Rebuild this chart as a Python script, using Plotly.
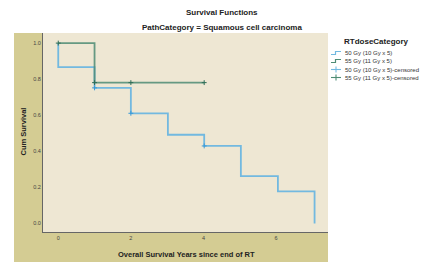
import plotly.graph_objects as go

# ---- data ----
series_names = ["50 Gy (10 Gy x 5)", "55 Gy (11 Gy x 5)"]
t_50 = [0.0, 0.0, 1.0, 2.0, 3.02, 4.02, 5.03, 6.05, 7.06]
s_50 = [1.0, 0.867, 0.752, 0.611, 0.492, 0.430, 0.263, 0.178, 0.0]
t_55 = [0.0, 1.0, 4.02]
s_55 = [1.0, 0.781, 0.781]
cens_t_50 = [1.0, 2.0, 4.02]
cens_s_50 = [0.752, 0.611, 0.430]
cens_t_55 = [0.0, 1.0, 2.0, 4.02]
cens_s_55 = [1.0, 0.781, 0.781, 0.781]
x_ticks = [0, 2, 4, 6]
y_ticks = [0.0, 0.2, 0.4, 0.6, 0.8, 1.0]
y_tick_labels = ["0.0", "0.2", "0.4", "0.6", "0.8", "1.0"]

BLUE = "#72B9E0"
GREEN = "#4E8C74"
KHAKI = "#D4CC93"
BEIGE = "#EEE7D3"
FONT = "Liberation Sans"

W, H = 432, 266
L, R, T, B = 43, 328, 33, 232  # plot area in px


def px(x):
    return (x - L) / (R - L)


def py(y):
    return (B - y) / (B - T)


fig = go.Figure()
fig.add_trace(go.Scatter(x=t_50, y=s_50, mode="lines", line=dict(color=BLUE, width=1.8, shape="hv"),
                         showlegend=False, hoverinfo="skip"))
fig.add_trace(go.Scatter(x=t_55, y=s_55, mode="lines", line=dict(color=GREEN, width=1.8, shape="hv"),
                         opacity=0.85, showlegend=False, hoverinfo="skip"))
fig.add_trace(go.Scatter(x=cens_t_50, y=cens_s_50, mode="markers",
                         marker=dict(symbol="cross-thin", size=3.5, line=dict(color="#3A9AD6", width=1)),
                         showlegend=False, hoverinfo="skip"))
fig.add_trace(go.Scatter(x=cens_t_55, y=cens_s_55, mode="markers",
                         marker=dict(symbol="cross-thin", size=3.5, line=dict(color="#2F6E58", width=1)),
                         showlegend=False, hoverinfo="skip"))

shapes = [
    dict(type="rect", xref="paper", yref="paper", x0=px(14), x1=px(328), y0=py(262), y1=py(33),
         fillcolor=KHAKI, line=dict(width=0), layer="below"),
    dict(type="rect", xref="paper", yref="paper", x0=0, x1=1, y0=0, y1=1,
         fillcolor=BEIGE, line=dict(width=0), layer="below"),
]


def ann(text, x, y, size, color="#222", xanchor="center", angle=0):
    return dict(text=text, x=px(x), y=py(y), xref="paper", yref="paper", xanchor=xanchor, yanchor="middle",
                textangle=angle, showarrow=False, font=dict(family=FONT, size=size, color=color))


annotations = [
    ann("<b>Survival Functions</b>", 222, 12, 8),
    ann("<b>PathCategory = Squamous cell carcinoma</b>", 222, 27, 8),
    ann("<b>Cum Survival</b>", 22.5, 132, 7.5, angle=-90),
    ann("<b>Overall Survival Years since end of RT</b>", 186, 254, 7.5),
    ann("<b>RTdoseCategory</b>", 376, 42, 8),
]

legend_items = [
    (series_names[0], BLUE, "step"),
    (series_names[1], GREEN, "step"),
    (series_names[0] + "-censored", BLUE, "cross"),
    (series_names[1] + "-censored", GREEN, "cross"),
]
rows = [53, 61, 69.5, 77.5]
for (label, col, kind), yy in zip(legend_items, rows):
    if kind == "step":
        path = "M {} {} L {} {} L {} {} L {} {}".format(px(331), py(yy + 1.5), px(335.5), py(yy + 1.5),
                                                        px(335.5), py(yy - 1.5), px(341), py(yy - 1.5))
        shapes.append(dict(type="path", xref="paper", yref="paper", path=path,
                           line=dict(color=col, width=1.2)))
    else:
        shapes.append(dict(type="line", xref="paper", yref="paper", x0=px(331), x1=px(341), y0=py(yy), y1=py(yy),
                           line=dict(color=col, width=1.1)))
        shapes.append(dict(type="line", xref="paper", yref="paper", x0=px(336), x1=px(336), y0=py(yy - 3),
                           y1=py(yy + 3), line=dict(color=col, width=1.1)))
    annotations.append(ann(label, 342.5, yy, 6, color="#333", xanchor="left"))

fig.update_layout(
    width=W, height=H,
    margin=dict(l=L, r=W - R, t=T, b=H - B, pad=0, autoexpand=False),
    paper_bgcolor="white", plot_bgcolor=BEIGE,
    shapes=shapes, annotations=annotations,
    showlegend=False,
    xaxis=dict(range=[-0.42, 7.43], tickvals=x_ticks, showgrid=False, zeroline=False, automargin=False,
               showline=True, linecolor="#666", linewidth=1, ticks="",
               tickfont=dict(family=FONT, size=5.5, color="#444")),
    yaxis=dict(range=[-0.047, 1.056], tickvals=y_ticks, ticktext=y_tick_labels, showgrid=False, zeroline=False,
               automargin=False, showline=True, linecolor="#666", linewidth=1, ticks="",
               tickfont=dict(family=FONT, size=5.5, color="#444")),
)

fig.write_html("out.html", config={"displayModeBar": False},
               post_script="document.body.style.margin='0px';document.body.style.padding='0px';")
